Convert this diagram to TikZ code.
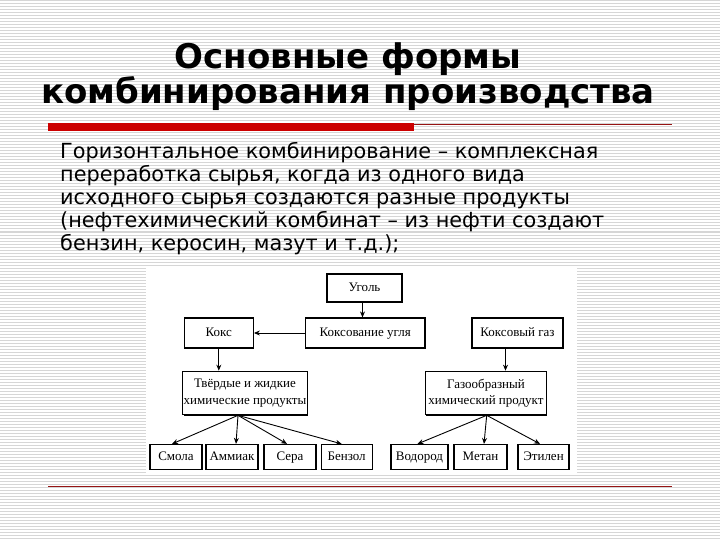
\documentclass[tikz,border=0pt]{standalone}
\usepackage{fontspec}
\setmainfont{DejaVu Sans}
\newfontfamily\boxfont{Liberation Serif}
\usetikzlibrary{arrows.meta,shadows}
\definecolor{stripegray}{RGB}{214,214,214}
\definecolor{barred}{RGB}{204,0,0}
\definecolor{linered}{RGB}{150,20,20}
\begin{document}
\begin{tikzpicture}[x=1pt,y=-1pt,
  stripe/.style={draw=stripegray, line width=1pt},
  titletext/.style={font=\fontsize{34}{38}\selectfont\bfseries, inner sep=0pt, anchor=base},
  bodytext/.style={font=\fontsize{20.8}{23}\selectfont, inner sep=0pt, anchor=base west},
  box/.style={draw=black, line width=1.2pt, fill=white, inner sep=1pt, align=center,
    font=\boxfont\fontsize{13}{16.5}\selectfont,
    general shadow={fill=black, shadow xshift=0.8pt, shadow yshift=-0.8pt}},
  onebox/.style={box, text height=8.5pt, text depth=2.5pt},
  arr/.style={-{Stealth[length=6pt,width=5pt]}, line width=0.9pt, draw=black}]
\useasboundingbox (0,0) rectangle (720,540);
\fill[white] (0,0) rectangle (720,540);
\foreach \yy in {1,4,...,539} \draw[stripe] (0,\yy) -- (720,\yy);
% title
\node[titletext] (t1) at (348,69) {Основные формы};
\node[titletext] (t2) at (348,104) {комбинирования производства};
% rules
\fill[barred] (48,123) rectangle (414,131);
\draw[linered, line width=0.8pt] (414,124) -- (672,124);
\draw[linered, line width=0.8pt] (48,486) -- (672,486);
% body
\node[bodytext] (l1) at (60,159) {Горизонтальное комбинирование – комплексная};
\node[bodytext] (l2) at (60,181.75) {переработка сырья, когда из одного вида};
\node[bodytext] (l3) at (60,204.5) {исходного сырья создаются разные продукты};
\node[bodytext] (l4) at (60,227.25) {(нефтехимический комбинат – из нефти создают};
\node[bodytext] (l5) at (60,250) {бензин, керосин, мазут и т.д.);};
% diagram background
\fill[white] (146,268) rectangle (577,474);
% boxes
\node[onebox, minimum width=75pt, minimum height=28pt] (ugol) at (364.5,288) {Уголь};
\node[onebox, minimum width=119.5pt, minimum height=30pt] (koksov) at (365.25,333) {Коксование угля};
\node[onebox, minimum width=69pt, minimum height=30pt] (koks) at (218.8,333) {Кокс};
\node[onebox, minimum width=91pt, minimum height=30pt] (gaz) at (517.5,333) {Коксовый газ};
\node[box, minimum width=121.5pt, minimum height=43.5pt] (tverd) at (245,393) {Твёрдые и жидкие\\химические продукты};
\node[box, minimum width=121pt, minimum height=43.5pt] (gazoobr) at (486,393) {Газообразный\\химический продукт};
\node[onebox, minimum width=52pt, minimum height=25pt] (smola) at (176,457) {Смола};
\node[onebox, minimum width=52pt, minimum height=25pt] (ammiak) at (232,457) {Аммиак};
\node[onebox, minimum width=52pt, minimum height=25pt] (sera) at (290,457) {Сера};
\node[onebox, minimum width=51pt, minimum height=25pt] (benzol) at (346.7,457) {Бензол};
\node[onebox, minimum width=57pt, minimum height=25pt] (vodorod) at (419.5,457) {Водород};
\node[onebox, minimum width=53pt, minimum height=25pt] (metan) at (480.5,457) {Метан};
\node[onebox, minimum width=51pt, minimum height=25pt] (etilen) at (543.5,457) {Этилен};
% connectors
\draw[arr] ([xshift=-2pt]ugol.south) -- ([xshift=-2pt]ugol.south |- koksov.north);
\draw[arr] (koksov.west) -- (koks.east);
\draw[arr] (koks.south) -- (koks.south |- tverd.north);
\draw[arr] ([xshift=-12pt]gaz.south) -- ([xshift=-12pt]gaz.south |- gazoobr.north);
\coordinate (ts) at ([xshift=-7pt]tverd.south);
\draw[arr] (ts) -- ([xshift=-4pt]smola.north);
\draw[arr] (ts) -- ([xshift=4pt]ammiak.north);
\draw[arr] (ts) -- ([xshift=-3pt]sera.north);
\draw[arr] (ts) -- ([xshift=-5pt]benzol.north);
\coordinate (gs) at ([xshift=0.7pt]gazoobr.south);
\draw[arr] (gs) -- ([xshift=-2pt]vodorod.north);
\draw[arr] (gs) -- ([xshift=3.5pt]metan.north);
\draw[arr] (gs) -- ([xshift=-3.5pt]etilen.north);
\end{tikzpicture}
\end{document}
